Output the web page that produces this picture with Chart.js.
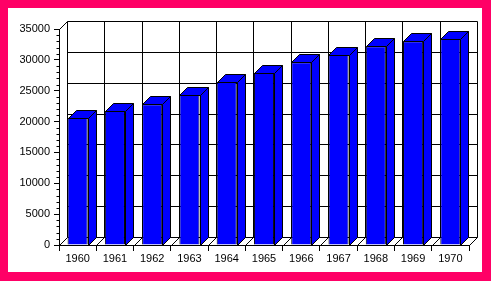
<!DOCTYPE html>
<html>
<head>
<meta charset="utf-8">
<script src="https://cdn.jsdelivr.net/npm/chart.js@4.4.0/dist/chart.umd.min.js"></script>
<style>
  html, body { margin: 0; padding: 0; background: #ff0066; }
  canvas { display: block; }
</style>
</head>
<body>
<canvas id="myChart" width="491" height="281"></canvas>
<script>
'use strict';

var years = ['1960', '1961', '1962', '1963', '1964', '1965', '1966', '1967', '1968', '1969', '1970'];
var values = [20600, 21700, 22800, 24300, 26400, 27900, 29600, 30800, 32200, 33000, 33400];
var yTicks = [0, 5000, 10000, 15000, 20000, 25000, 30000, 35000];

var DEPTH = 8;

function line(ctx, x1, y1, x2, y2) {
  ctx.beginPath();
  ctx.moveTo(x1, y1);
  ctx.lineTo(x2, y2);
  ctx.stroke();
}

var box3d = {
  id: 'box3d',
  beforeDraw: function (chart) {
    var ctx = chart.ctx;
    var area = chart.chartArea;
    var xs = chart.scales.x;
    var ys = chart.scales.y;
    var step = area.width / years.length;
    ctx.save();
    // pink frame + white panel
    ctx.fillStyle = '#ff0066';
    ctx.fillRect(0, 0, chart.width, chart.height);
    ctx.fillStyle = '#ffffff';
    ctx.fillRect(8, 8, chart.width - 17, chart.height - 17);

    ctx.strokeStyle = '#000000';
    ctx.lineWidth = 1;
    ctx.translate(0.5, 0.5);
    var L = Math.round(area.left), R = Math.round(area.right);
    var T = Math.round(ys.getPixelForValue(yTicks[yTicks.length - 1]));
    var B = Math.round(ys.getPixelForValue(0));

    // back wall horizontal grid lines
    for (var i = 0; i < yTicks.length; i++) {
      var y = Math.round(ys.getPixelForValue(yTicks[i])) - DEPTH;
      line(ctx, L + DEPTH, y, R + DEPTH, y);
    }
    // back wall vertical lines + floor diagonals
    for (var k = 0; k <= years.length; k++) {
      var x = Math.round(xs.left + k * step);
      line(ctx, x + DEPTH, T - DEPTH, x + DEPTH, B - DEPTH);
      line(ctx, x, B, x + DEPTH, B - DEPTH);
    }
    // left wall top edge
    line(ctx, L, T, L + DEPTH, T - DEPTH);

    // minor ticks on y axis
    for (var v = 0; v <= yTicks[yTicks.length - 1]; v += 1000) {
      if (v % 5000 === 0) continue;
      var yy = Math.round(ys.getPixelForValue(v));
      line(ctx, L - 3, yy, L, yy);
    }
    ctx.restore();
  },
  afterDatasetsDraw: function (chart) {
    var ctx = chart.ctx;
    var meta = chart.getDatasetMeta(0);
    ctx.save();
    ctx.strokeStyle = '#000000';
    ctx.lineWidth = 1;
    ctx.fillStyle = '#0000ff';
    ctx.translate(0.5, 0.5);
    meta.data.forEach(function (bar) {
      var x0 = Math.round(bar.x - bar.width / 2);
      var x1 = Math.round(bar.x + bar.width / 2);
      var yt = Math.round(bar.y);
      var yb = Math.round(bar.base);
      // top face
      ctx.beginPath();
      ctx.moveTo(x0, yt);
      ctx.lineTo(x0 + DEPTH, yt - DEPTH);
      ctx.lineTo(x1 + DEPTH, yt - DEPTH);
      ctx.lineTo(x1, yt);
      ctx.closePath();
      ctx.fill();
      ctx.stroke();
      // side face
      ctx.beginPath();
      ctx.moveTo(x1, yt);
      ctx.lineTo(x1 + DEPTH, yt - DEPTH);
      ctx.lineTo(x1 + DEPTH, yb - DEPTH);
      ctx.lineTo(x1, yb);
      ctx.closePath();
      ctx.fill();
      ctx.stroke();
    });
    ctx.restore();
  }
};

var ctx = document.getElementById('myChart').getContext('2d');
var chart = new Chart(ctx, {
  type: 'bar',
  data: {
    labels: years,
    datasets: [{
      data: values,
      backgroundColor: '#0000ff',
      borderColor: '#000000',
      borderWidth: 1,
      categoryPercentage: 1,
      barPercentage: 0.54
    }]
  },
  options: {
    responsive: false,
    animation: false,
    events: [],
    layout: { padding: { left: 8, right: 22, top: 29, bottom: 9 } },
    plugins: { legend: { display: false }, tooltip: { enabled: false } },
    scales: {
      x: {
        offset: true,
        grid: { drawOnChartArea: false, tickLength: 6, color: '#000000', offset: true },
        border: { display: true, color: '#000000' },
        ticks: {
          color: '#000000',
          font: { family: 'Liberation Sans', size: 11 },
          padding: 1,
          maxRotation: 0,
          autoSkip: false
        },
        afterFit: function (scale) { scale.height = 27; }
      },
      y: {
        min: 0,
        max: 35000,
        grid: { drawOnChartArea: false, tickLength: 5, color: '#000000' },
        border: { display: true, color: '#000000' },
        ticks: {
          stepSize: 5000,
          color: '#000000',
          font: { family: 'Liberation Sans', size: 11 },
          padding: 4,
          callback: function (value) { return String(value); }
        },
        afterFit: function (scale) { scale.width = 51; }
      }
    }
  },
  plugins: [box3d]
});
</script>
</body>
</html>
